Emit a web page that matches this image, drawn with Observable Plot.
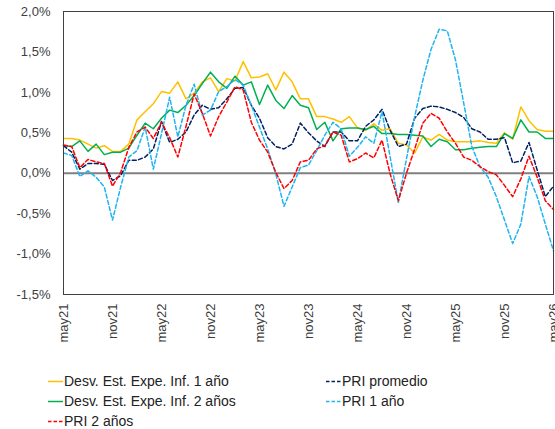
<!DOCTYPE html>
<html>
<head>
<meta charset="utf-8">
<script src="https://cdn.jsdelivr.net/npm/d3@7"></script>
<script src="https://cdn.jsdelivr.net/npm/@observablehq/plot@0.6"></script>
<style>
  body { margin: 0; background: #fff; font-family: "Liberation Sans", Arial, sans-serif; }
  #wrap { position: relative; width: 555px; height: 429px; overflow: hidden; }
  #chart svg { display: block; overflow: visible; }
  .item { position: absolute; height: 18px; line-height: 18px; font-size: 14px; color: #222; white-space: nowrap; }
  .item svg { position: absolute; left: 0; top: 0; }
  .item span { position: absolute; left: 16px; top: 0; }
</style>
</head>
<body>
<div id="wrap">
  <div id="chart"></div>
  <div id="legend"></div>
</div>
<script>
// Monthly categories, May 2021 – May 2026
const months = [
  "may21","jun21","jul21","ago21","sep21","oct21","nov21","dic21",
  "ene22","feb22","mar22","abr22","may22","jun22","jul22","ago22","sep22","oct22","nov22","dic22",
  "ene23","feb23","mar23","abr23","may23","jun23","jul23","ago23","sep23","oct23","nov23","dic23",
  "ene24","feb24","mar24","abr24","may24","jun24","jul24","ago24","sep24","oct24","nov24","dic24",
  "ene25","feb25","mar25","abr25","may25","jun25","jul25","ago25","sep25","oct25","nov25","dic25",
  "ene26","feb26","mar26","abr26","may26"
];
const tickLabels = ["may21","nov21","may22","nov22","may23","nov23","may24","nov24","may25","nov25","may26"];
const yTicks = [-1.5, -1.0, -0.5, 0, 0.5, 1.0, 1.5, 2.0];

// Values in percent
const desv1 = [
  0.43,0.43,0.41,0.36,0.31,0.34,0.27,0.27,0.36,0.66,0.76,0.86,1.01,0.99,1.13,0.92,0.99,1.13,1.18,1.01,
  1.17,1.14,1.38,1.18,1.19,1.23,1.03,1.25,1.13,0.92,0.92,0.70,0.70,0.67,0.63,0.70,0.56,0.53,0.61,0.53,
  0.55,0.37,0.35,0.25,0.45,0.41,0.48,0.41,0.39,0.39,0.39,0.40,0.38,0.37,0.50,0.42,0.82,0.65,0.54,0.52,0.52
];
const desv2 = [
  0.34,0.33,0.40,0.27,0.36,0.23,0.26,0.26,0.31,0.47,0.62,0.55,0.68,0.78,0.75,0.84,0.96,1.11,1.25,1.13,
  1.05,1.20,1.09,1.13,0.85,1.09,0.90,0.80,0.96,0.84,0.81,0.54,0.63,0.40,0.55,0.56,0.56,0.54,0.58,0.49,
  0.49,0.48,0.48,0.47,0.46,0.33,0.42,0.39,0.29,0.29,0.31,0.32,0.33,0.33,0.49,0.43,0.66,0.51,0.51,0.43,0.43
];
const priProm = [
  0.34,0.26,0.05,0.12,0.12,0.11,-0.09,-0.03,0.16,0.16,0.20,0.30,0.64,0.38,0.42,0.51,0.72,0.84,0.79,0.81,
  0.92,1.05,1.06,0.84,0.68,0.44,0.33,0.30,0.36,0.62,0.50,0.40,0.33,0.51,0.51,0.40,0.40,0.58,0.66,0.79,
  0.53,0.33,0.36,0.68,0.80,0.83,0.82,0.79,0.75,0.69,0.55,0.51,0.42,0.42,0.44,0.13,0.15,0.38,0.04,-0.29,-0.16
];
const pri1 = [
  0.25,0.22,-0.04,0.03,-0.05,-0.17,-0.58,-0.17,0.20,0.28,0.57,0.05,0.49,0.94,0.45,0.84,1.10,0.72,0.78,1.01,
  1.07,1.16,1.09,0.84,0.57,0.30,-0.01,-0.41,-0.17,0.07,0.10,0.28,0.47,0.63,0.55,0.21,0.32,0.45,0.37,0.76,
  0.20,-0.36,0.18,0.70,1.15,1.53,1.78,1.76,1.40,0.87,0.33,0.08,-0.05,-0.29,-0.58,-0.87,-0.63,-0.04,-0.29,-0.63,-0.96
];
const pri2 = [
  0.35,0.33,0.07,0.17,0.14,0.12,-0.16,0.01,0.32,0.51,0.57,0.43,0.63,0.44,0.20,0.58,0.98,0.74,0.46,0.70,
  0.88,1.07,1.03,0.63,0.41,0.26,0.01,-0.19,-0.09,0.14,0.16,0.30,0.34,0.51,0.47,0.14,0.18,0.25,0.19,0.41,
  -0.01,-0.34,0.00,0.30,0.62,0.74,0.68,0.51,0.37,0.20,0.16,0.08,0.02,-0.02,-0.15,-0.29,-0.07,0.21,-0.05,-0.34,-0.45
];

const series = [
  {name: "Desv. Est. Expe. Inf. 1 año", values: desv1, color: "#FFC000", dashed: false},
  {name: "Desv. Est. Expe. Inf. 2 años", values: desv2, color: "#00B050", dashed: false},
  {name: "PRI promedio", values: priProm, color: "#002060", dashed: true},
  {name: "PRI 1 año", values: pri1, color: "#1FB4F0", dashed: true},
  {name: "PRI 2 años", values: pri2, color: "#FF0000", dashed: true}
];

const fmtPct = d => d.toFixed(1).replace(".", ",").replace("−", "-") + "%";

const chart = Plot.plot({
  width: 555,
  height: 355,
  marginLeft: 63,
  marginRight: 2,
  marginTop: 11,
  marginBottom: 61,
  style: {fontFamily: "'Liberation Sans', Arial, sans-serif", fontSize: "13px", color: "#404040", background: "#fff", overflow: "visible"},
  x: {type: "point", domain: months, padding: 0, round: false, axis: null},
  y: {domain: [-1.5, 2.0]},
  marks: [
    Plot.ruleY([0], {stroke: "#7f7f7f", strokeWidth: 2}),
    ...series.map(s => Plot.line(s.values.map((v, i) => ({month: months[i], value: v})), {
      x: "month", y: "value",
      stroke: s.color, strokeWidth: 1.5,
      strokeDasharray: s.dashed ? "4,2.5" : null
    })),
    Plot.frame({stroke: "#404040", strokeWidth: 1}),
    Plot.axisY(yTicks, {label: null, tickSize: 0, tickPadding: 13, tickFormat: fmtPct, fontSize: 13, fill: "#404040"}),
    // Month labels, rotated and centred on their category
    Plot.text(tickLabels, {
      x: d => d, frameAnchor: "bottom", dy: 9,
      rotate: -90, textAnchor: "end", lineAnchor: "middle",
      fontSize: 13, fill: "#404040", clip: false
    })
  ]
});
document.getElementById("chart").appendChild(chart);

// Legend below the plot
const legendPos = [
  {left: 48, top: 372},
  {left: 48, top: 392},
  {left: 326, top: 372},
  {left: 326, top: 392},
  {left: 48, top: 412}
];
const legend = document.getElementById("legend");
series.forEach((s, i) => {
  const item = document.createElement("div");
  item.className = "item";
  item.style.left = legendPos[i].left + "px";
  item.style.top = legendPos[i].top + "px";
  item.innerHTML =
    `<svg width="16" height="18"><line x1="0" x2="15" y1="9.5" y2="9.5" stroke="${s.color}" stroke-width="1.5"` +
    (s.dashed ? ` stroke-dasharray="3.5,2"` : "") + `/></svg><span>${s.name}</span>`;
  legend.appendChild(item);
});
</script>
</body>
</html>
